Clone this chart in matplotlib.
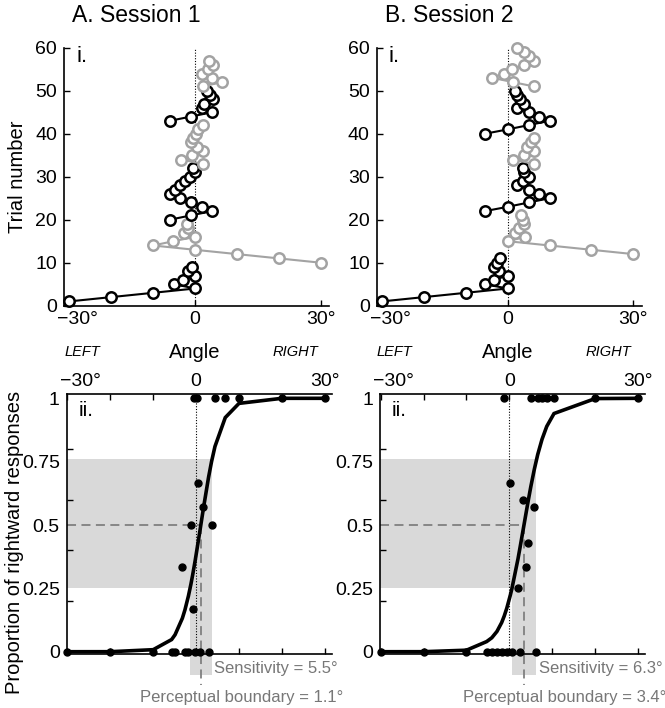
import matplotlib
matplotlib.use('Agg')
import matplotlib.pyplot as plt
import matplotlib.transforms as mtransforms
from matplotlib.patches import Polygon

plt.rcParams['font.family'] = ['Liberation Sans', 'DejaVu Sans']

# ---------------- data ----------------
# Panel i: staircase angles per trial, in alternating black/gray blocks
s1_block_colors = ['black', 'gray', 'black', 'gray', 'black', 'gray']
s1_block_lengths = [9, 10, 13, 10, 8, 7]
s1_angles = [-30, -20, -10, 0, -5, -2.8, 0, -1.6, -0.7,
             30, 20, 10, 0, -10, -5.2, 0, -2.6, -1.6, -2,
             -6, -1, 4.1, 1.6, -1, -3.6, -6, -4.8, -3.6, -2.4, -1.2, 0, -0.4,
             1.8, -3.4, -0.8, 1.8, 0.4, -1, -0.4, 0.2, 0.8, 1.8,
             -6, -0.9, 4.1, 1.6, 2.2, 4.3, 3.5, 2.8,
             1.8, 6.5, 4, 1.6, 3, 4.4, 3.4]

s2_block_colors = ['black', 'gray', 'black', 'gray', 'black', 'gray']
s2_block_lengths = [11, 10, 11, 7, 11, 10]
s2_angles = [-30, -20, -10, 0, -5.5, -3.3, 0, -2, -3.2, -2.5, -1.8,
             30, 20, 10, 0, 4.2, 1.8, 2.7, 4, 3.6, 3.1,
             -5.4, 0, 5, 10, 7.5, 5, 2.2, 3.7, 5, 4, 3.6,
             6.2, 1.2, 4, 6.2, 4.5, 5.6, 6.2,
             -5.4, 0, 5, 10, 7.5, 5, 2.3, 3.8, 3, 2.2, 1.8,
             6.2, 1.2, -3.7, -1, 1, 3.8, 6.2, 5, 3.8, 2.2]

# Panel ii: proportion of rightward responses per angle
s1_resp_angle = [-30, -20, -10, -5.7, -4.9, -2.6, -1.8, -0.2, 0.9, 2.9,
                 -3.2, -1.2, -0.8, 0.5, 1.7, 3.6,
                 -0.6, 0.2, 4.4, 6.8, 10, 20, 30]
s1_resp_prop = [0, 0, 0, 0, 0, 0, 0, 0, 0, 0,
                0.333, 0.5, 0.167, 0.667, 0.571, 0.5,
                1, 1, 1, 1, 1, 1, 1]
s2_resp_angle = [-30, -20, -10, -5.3, -4.1, -2.9, -1.8, -0.6, 0.6, 2.5, 6.2,
                 0.2, 2.0, 3.1, 3.8, 4.4, 5.8,
                 -1.2, 5, 6.6, 7.6, 8.7, 10.4, 20, 30]
s2_resp_prop = [0, 0, 0, 0, 0, 0, 0, 0, 0, 0, 0,
                0.667, 0.25, 0.6, 0.333, 0.43, 0.571,
                1, 1, 1, 1, 1, 1, 1, 1]

# fitted psychometric curve
s1_fit_x = [-30, -20, -10, -5.7, -4.9, -3.2, -2.6, -1.8, -1.2, -0.8, -0.2, 0.5, 0.9,
            1.7, 2.9, 3.6, 4.4, 6.8, 10, 20, 30]
s1_fit_p = [0.0, 0.0001, 0.008, 0.048, 0.067, 0.132, 0.165, 0.219, 0.267, 0.303, 0.361,
            0.435, 0.478, 0.565, 0.688, 0.75, 0.81, 0.924, 0.98, 1.0, 1.0]
s2_fit_x = [-30, -20, -10, -5.3, -4.1, -2.9, -1.8, -1.2, -0.6, 0.2, 0.6, 2.0, 2.5, 3.1,
            3.8, 4.4, 5.0, 5.8, 6.6, 7.6, 8.7, 10.4, 20, 30]
s2_fit_p = [0.0, 0.0001, 0.006, 0.04, 0.055, 0.08, 0.115, 0.141, 0.172, 0.222, 0.25,
            0.366, 0.413, 0.471, 0.539, 0.597, 0.652, 0.719, 0.778, 0.838, 0.889,
            0.94, 0.999, 1.0]

boundaries = [1.1, 3.4]
sensitivities = [5.5, 6.3]
band_x = [(-1.5, 3.6), (0.6, 6.2)]
band_y = (0.25, 0.76)

titles = ['A. Session 1', 'B. Session 2']
xtick_vals = [-30, 0, 30]
xtick_labels = ['\u221230\u00b0', '0', '30\u00b0']
ytick_top = [0, 10, 20, 30, 40, 50, 60]
ytick_bottom = [0, 0.25, 0.5, 0.75, 1]
ytick_bottom_labels = ['0', '0.25', '0.5', '0.75', '1']

# ---------------- figure ----------------
W, H = 665, 708
fig = plt.figure(figsize=(W / 100, H / 100), dpi=100)

GRAY_MK = '#a3a3a3'
TXT_GRAY = '#777777'
BAND = '#d9d9d9'

top_axes = [fig.add_axes([64 / W, 1 - 305.7 / H, 265 / W, 258 / H]),
            fig.add_axes([376.7 / W, 1 - 305.7 / H, 265 / W, 258 / H])]
bot_axes = [fig.add_axes([66.7 / W, 1 - 654 / H, 265 / W, 260 / H]),
            fig.add_axes([380 / W, 1 - 654 / H, 265 / W, 260 / H])]

tick_fs = 14


def offset_first_label(ax, dx_px):
    off = mtransforms.ScaledTranslation(dx_px / 100, 0, fig.dpi_scale_trans)
    t = ax.xaxis.get_major_ticks()[0]
    t.label1.set_transform(t.label1.get_transform() + off)
    t.label2.set_transform(t.label2.get_transform() + off)


sessions_top = [(s1_angles, s1_block_colors, s1_block_lengths),
                (s2_angles, s2_block_colors, s2_block_lengths)]

for k, ax in enumerate(top_axes):
    angles, colors, lengths = sessions_top[k]
    ax.set_xlim(-31.3, 32)
    ax.set_ylim(0, 60)
    ax.axvline(0, color='black', lw=0.8, ls=(0, (1, 1.5)), zorder=1)
    start = 0
    for c, n in zip(colors, lengths):
        xs = angles[start:start + n]
        ys = list(range(start + 1, start + n + 1))
        col = 'black' if c == 'black' else GRAY_MK
        ax.plot(xs, ys, '-o', color=col, mfc='white', mec=col, ms=7.5, mew=1.8,
                lw=1.5, clip_on=False, zorder=3)
        start += n
    for s in ['top', 'right']:
        ax.spines[s].set_visible(False)
    for s in ['left', 'bottom']:
        ax.spines[s].set_linewidth(1.2)
    ax.set_yticks(ytick_top)
    ax.set_xticks(xtick_vals)
    ax.set_xticklabels(xtick_labels)
    ax.tick_params(axis='both', direction='in', length=4, width=1, labelsize=tick_fs)
    ax.tick_params(axis='x', pad=4)
    ax.tick_params(axis='y', pad=5)
    offset_first_label(ax, 8)
    ax.text(12 / 265, 1 - 8.5 / 258, 'i.', transform=ax.transAxes, fontsize=16,
            ha='left', va='center')
    # LEFT / Angle / RIGHT
    tr = mtransforms.blended_transform_factory(ax.transData, fig.transFigure)
    ax.text(-27.0, 1 - 352 / H, 'LEFT', transform=tr, fontsize=10.5, style='italic',
            ha='center', va='center')
    ax.text(0, 1 - 352 / H, 'Angle', transform=tr, fontsize=14.5, ha='center', va='center')
    ax.text(24.0, 1 - 352 / H, 'RIGHT', transform=tr, fontsize=10.5, style='italic',
            ha='center', va='center')

top_axes[0].set_ylabel('Trial number', fontsize=14.5, labelpad=6)

sessions_bot = [(s1_resp_angle, s1_resp_prop, s1_fit_x, s1_fit_p),
                (s2_resp_angle, s2_resp_prop, s2_fit_x, s2_fit_p)]

for k, ax in enumerate(bot_axes):
    ra, rp, fx, fp = sessions_bot[k]
    xmin, xmax = -30.15, 31.6
    ax.set_xlim(xmin, xmax)
    ax.set_ylim(-0.009, 1.017)
    lo, hi = band_x[k]
    ylo, yhi = band_y
    poly = Polygon([(xmin, ylo), (xmin, yhi), (hi, yhi), (hi, -0.092), (lo, -0.092), (lo, ylo)],
                   closed=True, fc=BAND, ec='none', clip_on=False, zorder=0)
    ax.add_patch(poly)
    ax.axvline(0, color='black', lw=0.8, ls=(0, (1, 1.5)), zorder=1)
    b = boundaries[k]
    ax.plot([xmin, b], [0.5, 0.5], color='#808080', lw=1.3, ls=(0, (5, 3)), zorder=2)
    ax.plot([b, b], [0.5, -0.13], color='#808080', lw=1.3, ls=(0, (5, 3)), zorder=2,
            clip_on=False)
    ax.plot(fx, fp, color='black', lw=2.6, clip_on=False, zorder=3, solid_joinstyle='miter')
    ax.plot(ra, rp, 'o', color='black', ms=5, clip_on=False, zorder=4)
    ax.spines['right'].set_visible(False)
    for s in ['left', 'bottom', 'top']:
        ax.spines[s].set_linewidth(1.2)
    ax.set_xticks(xtick_vals)
    ax.set_xticklabels(xtick_labels)
    ax.set_xticks([-20, -10, 10, 20], minor=True)
    ax.tick_params(axis='x', which='both', direction='in', length=4, width=1,
                   top=True, bottom=True, labeltop=True, labelbottom=False,
                   labelsize=tick_fs, pad=3)
    ax.set_yticks(ytick_bottom)
    ax.set_yticklabels(ytick_bottom_labels)
    ax.set_yticks([0.2, 0.4, 0.6, 0.8], minor=True)
    ax.tick_params(axis='y', which='major', length=0, labelsize=tick_fs, pad=5)
    ax.tick_params(axis='y', which='minor', direction='in', length=4, width=1)
    offset_first_label(ax, 13)
    ax.text(12 / 265, 1 - 16 / 260, 'ii.', transform=ax.transAxes, fontsize=15,
            ha='left', va='center')
    ax.text(hi + 0.6, -0.068, 'Sensitivity = %.1f\u00b0' % sensitivities[k],
            color=TXT_GRAY, fontsize=12.0, ha='left', va='center', clip_on=False)
    ax.text(b - 14.2, -0.179, 'Perceptual boundary = %.1f\u00b0' % b,
            color=TXT_GRAY, fontsize=12.0, ha='left', va='center', clip_on=False)

fig.text(15 / W, 1 - 542 / H, 'Proportion of rightward responses', rotation=90,
         fontsize=14.5, ha='center', va='center')

fig.text(72 / W, 1 - 16 / H, titles[0], fontsize=16.5, ha='left', va='center')
fig.text(385 / W, 1 - 16 / H, titles[1], fontsize=16.5, ha='left', va='center')

fig.savefig('out.png', dpi=100)
